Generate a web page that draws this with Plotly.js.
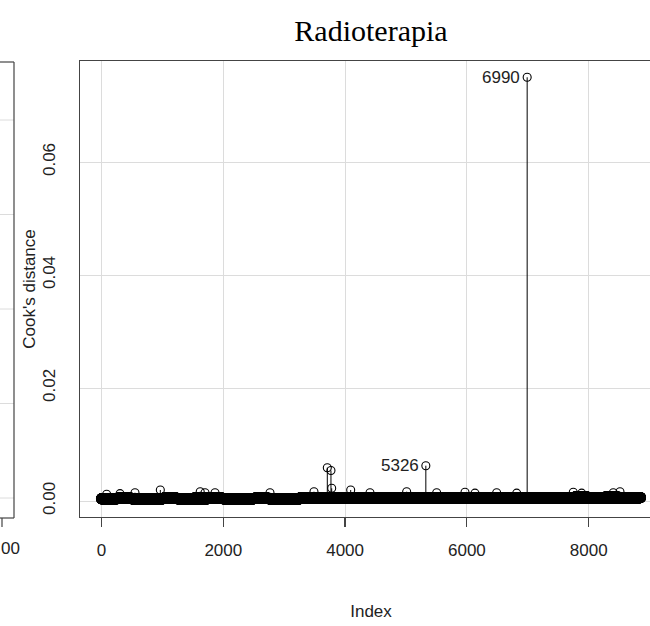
<!DOCTYPE html>
<html>
<head>
<meta charset="utf-8">
<script src="https://cdn.plot.ly/plotly-3.0.1.min.js"></script>
<style>
  html, body { margin: 0; padding: 0; overflow: hidden; background: #ffffff; }
  #chart { width: 680px; height: 626px; }
</style>
</head>
<body>
<div id="chart"></div>
<script>
// ---- data ----
const chartTitle = "Radioterapia";
const xTitle = "Index";
const yTitle = "Cook's distance";
const obsCount = 8850;          // number of observations (last index)
const blockSize = 250;          // band levels are estimated per block of 250 observations
// estimated typical Cook's distance of the dense band, one value per block
const bandLevel = [
  0.00042, 0.00045, 0.00042, 0.00040, 0.00045, 0.00042, 0.00044, 0.00045, 0.00042,
  0.00043, 0.00045, 0.00042, 0.00040, 0.00050, 0.00052, 0.00050, 0.00052, 0.00050,
  0.00048, 0.00050, 0.00052, 0.00050, 0.00050, 0.00052, 0.00050, 0.00048, 0.00050,
  0.00052, 0.00050, 0.00060, 0.00060, 0.00062, 0.00060, 0.00062, 0.00060, 0.00060
];
// individually visible observations (index, Cook's distance)
const peakIdx = [85, 304, 550, 966, 1621, 1700, 1864, 2767, 3489, 3708, 3768, 3780,
                 4092, 4409, 5011, 5326, 5504, 5969, 6133, 6489, 6818, 6990, 7747,
                 7885, 8404, 8514];
const peakVal = [0.00120, 0.00130, 0.00147, 0.00195, 0.00165, 0.00147, 0.00147, 0.00147,
                 0.00165, 0.00590, 0.00540, 0.00225, 0.00195, 0.00147, 0.00165, 0.00625,
                 0.00147, 0.00154, 0.00140, 0.00147, 0.00140, 0.07500, 0.00154, 0.00140,
                 0.00147, 0.00165];
const labelIdx = [6990, 5326];
const xTicks = [0, 2000, 4000, 6000, 8000];
const yTicks = [0, 0.02, 0.04, 0.06];
const yTickText = ["0.00", "0.02", "0.04", "0.06"];
const leftPanelTickText = "00";

// ---- build series ----
const peakMap = new Map(peakIdx.map((k, j) => [k, peakVal[j]]));
const bandX = [], bandY = [];
const stemX = [], stemY = [];
for (let i = 1; i <= obsCount; i++) {
  const v = peakMap.has(i) ? peakMap.get(i) : bandLevel[Math.floor((i - 1) / blockSize)];
  if (!peakMap.has(i)) { bandX.push(i); bandY.push(v); }
  stemX.push(i, i, null); stemY.push(0, v, null);
}

// ---- geometry ----
const W = 680, H = 626;
const mL = 80, mT = 61, mB = 626 - 517, mR = W - 662;
const pw = W - mL - mR, ph = H - mT - mB;
const px = p => (p - mL) / pw;          // pixel -> paper x
const py = p => (H - mB - p) / ph;      // pixel -> paper y

const textColor = "#222222";
const fontSans = "Liberation Sans, Arial, sans-serif";

const traces = [
  { type: "scatter", mode: "lines", x: stemX, y: stemY, hoverinfo: "skip",
    line: { color: "#000000", width: 1 }, showlegend: false },
  { type: "scatter", mode: "markers", x: bandX, y: bandY, hoverinfo: "skip",
    marker: { symbol: "circle-open", size: 10, color: "#000000", line: { width: 1.3, color: "#000000" } },
    showlegend: false },
  { type: "scatter", mode: "markers", x: peakIdx, y: peakVal,
    marker: { symbol: "circle-open", size: 8, color: "#000000", line: { width: 1.1, color: "#000000" } },
    showlegend: false }
];

const annotations = labelIdx.map(k => ({
  x: k, y: peakMap.get(k), xref: "x", yref: "y", text: String(k), showarrow: false,
  xanchor: "right", yanchor: "middle", xshift: -5,
  font: { family: fontSans, size: 17, color: textColor }
}));
annotations.push({
  x: px(10), y: py(548), xref: "paper", yref: "paper", text: leftPanelTickText,
  showarrow: false, xanchor: "center", yanchor: "middle",
  font: { family: fontSans, size: 17, color: textColor }
});

// fragment of the neighbouring (cropped) panel on the far left
const shapes = [];
const lpRight = 14, lpTop = 62, lpBottom = 518;
[120, 214.5, 309, 403.5, 498].forEach(g => shapes.push({
  type: "line", xref: "paper", yref: "paper", x0: px(0), x1: px(lpRight), y0: py(g), y1: py(g),
  line: { color: "#dcdcdc", width: 1 }
}));
shapes.push({ type: "line", xref: "paper", yref: "paper", x0: px(-2), x1: px(lpRight), y0: py(lpTop), y1: py(lpTop), line: { color: "#444", width: 1.2 } });
shapes.push({ type: "line", xref: "paper", yref: "paper", x0: px(-2), x1: px(lpRight), y0: py(lpBottom), y1: py(lpBottom), line: { color: "#444", width: 1.2 } });
shapes.push({ type: "line", xref: "paper", yref: "paper", x0: px(lpRight), x1: px(lpRight), y0: py(lpTop), y1: py(lpBottom), line: { color: "#444", width: 1.2 } });
shapes.push({ type: "line", xref: "paper", yref: "paper", x0: px(2), x1: px(2), y0: py(lpBottom), y1: py(lpBottom + 9), line: { color: "#444", width: 1.2 } });

const layout = {
  width: W, height: H,
  margin: { l: mL, r: mR, t: mT, b: mB, pad: 0 },
  paper_bgcolor: "#ffffff", plot_bgcolor: "#ffffff",
  showlegend: false,
  title: { text: chartTitle, x: 0.5, xref: "paper", xanchor: "center",
           y: 1 - 30 / H, yref: "container", yanchor: "middle",
           font: { family: "Liberation Serif, Times New Roman, serif", size: 30, color: "#000000" } },
  xaxis: {
    range: [-353, 9204], tickvals: xTicks, ticktext: xTicks.map(String),
    showgrid: true, gridcolor: "#dcdcdc", gridwidth: 1, zeroline: false,
    showline: true, mirror: true, linecolor: "#444", linewidth: 1.2,
    ticks: "outside", ticklen: 9, tickcolor: "#444", tickwidth: 1.2,
    ticklabelstandoff: 8,
    tickfont: { family: fontSans, size: 17, color: textColor },
    title: { text: xTitle, standoff: 46, font: { family: fontSans, size: 17, color: textColor } },
    automargin: false, fixedrange: true
  },
  yaxis: {
    range: [-0.00283, 0.07788], tickvals: yTicks, ticktext: yTickText,
    showgrid: true, gridcolor: "#dcdcdc", gridwidth: 1, zeroline: false,
    showline: true, mirror: true, linecolor: "#444", linewidth: 1.2,
    ticks: "", tickangle: -90, ticklabelstandoff: 17,
    tickfont: { family: fontSans, size: 17, color: textColor },
    title: { text: yTitle, standoff: 0, font: { family: fontSans, size: 17, color: textColor } },
    automargin: false, fixedrange: true
  },
  annotations: annotations,
  shapes: shapes
};

Plotly.newPlot("chart", traces, layout, { displayModeBar: false, staticPlot: true });
</script>
</body>
</html>
